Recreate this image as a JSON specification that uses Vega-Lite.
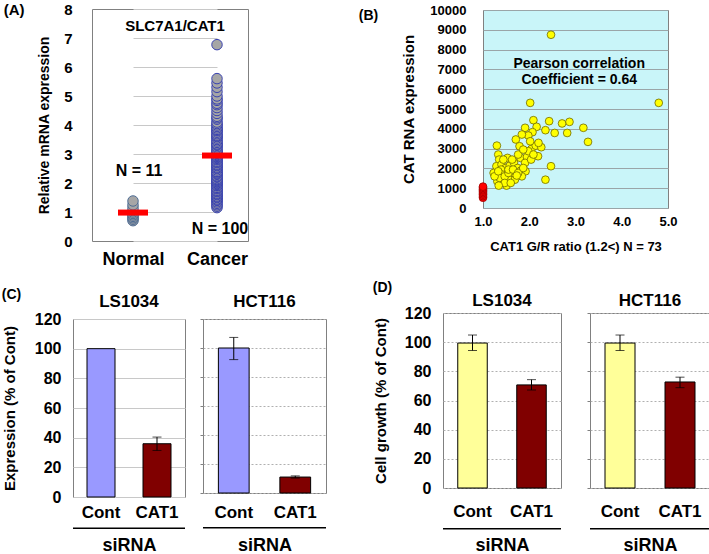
{
  "$schema": "https://vega.github.io/schema/vega-lite/v6.json",
  "padding": {"left": 1, "top": 1, "right": 0, "bottom": 0},
  "background": "white",
  "config": {
    "font": "Liberation Sans",
    "view": {"stroke": "#808080"},
    "axis": {"labelFont": "Liberation Sans", "titleFont": "Liberation Sans", "labelFontWeight": "bold", "titleFontWeight": "bold", "labelColor": "#000", "titleColor": "#000", "domain": false, "ticks": false, "gridColor": "#c8c8c8", "labelOverlap": false, "labelFlush": false, "tickCount": 30},
    "text": {"font": "Liberation Sans", "fontWeight": "bold", "color": "#000"},
    "title": {"font": "Liberation Sans", "fontWeight": "bold", "color": "#000"}
  },
  "datasets": {
    "a": [
      {"g": "Normal", "v": 0.7}, {"g": "Normal", "v": 0.75}, {"g": "Normal", "v": 0.8}, {"g": "Normal", "v": 0.85}, {"g": "Normal", "v": 0.9}, {"g": "Normal", "v": 0.95}, {"g": "Normal", "v": 1.0}, {"g": "Normal", "v": 1.05}, {"g": "Normal", "v": 1.15}, {"g": "Normal", "v": 1.25}, {"g": "Normal", "v": 1.38},
      {"g": "Cancer", "v": 1.15}, {"g": "Cancer", "v": 1.2}, {"g": "Cancer", "v": 1.25}, {"g": "Cancer", "v": 1.3}, {"g": "Cancer", "v": 1.35}, {"g": "Cancer", "v": 1.4}, {"g": "Cancer", "v": 1.42}, {"g": "Cancer", "v": 1.45}, {"g": "Cancer", "v": 1.5}, {"g": "Cancer", "v": 1.52}, {"g": "Cancer", "v": 1.55}, {"g": "Cancer", "v": 1.6}, {"g": "Cancer", "v": 1.62}, {"g": "Cancer", "v": 1.65}, {"g": "Cancer", "v": 1.7}, {"g": "Cancer", "v": 1.72}, {"g": "Cancer", "v": 1.75}, {"g": "Cancer", "v": 1.8}, {"g": "Cancer", "v": 1.82}, {"g": "Cancer", "v": 1.85}, {"g": "Cancer", "v": 1.9}, {"g": "Cancer", "v": 1.92}, {"g": "Cancer", "v": 1.95}, {"g": "Cancer", "v": 1.98}, {"g": "Cancer", "v": 2.0},
      {"g": "Cancer", "v": 2.03}, {"g": "Cancer", "v": 2.05}, {"g": "Cancer", "v": 2.08}, {"g": "Cancer", "v": 2.1}, {"g": "Cancer", "v": 2.12}, {"g": "Cancer", "v": 2.15}, {"g": "Cancer", "v": 2.2}, {"g": "Cancer", "v": 2.22}, {"g": "Cancer", "v": 2.25}, {"g": "Cancer", "v": 2.3}, {"g": "Cancer", "v": 2.32}, {"g": "Cancer", "v": 2.35}, {"g": "Cancer", "v": 2.38}, {"g": "Cancer", "v": 2.4}, {"g": "Cancer", "v": 2.45}, {"g": "Cancer", "v": 2.5}, {"g": "Cancer", "v": 2.52}, {"g": "Cancer", "v": 2.55}, {"g": "Cancer", "v": 2.6}, {"g": "Cancer", "v": 2.62}, {"g": "Cancer", "v": 2.65}, {"g": "Cancer", "v": 2.7}, {"g": "Cancer", "v": 2.72}, {"g": "Cancer", "v": 2.75}, {"g": "Cancer", "v": 2.8}, {"g": "Cancer", "v": 2.82}, {"g": "Cancer", "v": 2.85}, {"g": "Cancer", "v": 2.88}, {"g": "Cancer", "v": 2.9}, {"g": "Cancer", "v": 2.92}, {"g": "Cancer", "v": 2.95}, {"g": "Cancer", "v": 2.98},
      {"g": "Cancer", "v": 3.02}, {"g": "Cancer", "v": 3.05}, {"g": "Cancer", "v": 3.08}, {"g": "Cancer", "v": 3.1}, {"g": "Cancer", "v": 3.15}, {"g": "Cancer", "v": 3.2}, {"g": "Cancer", "v": 3.25}, {"g": "Cancer", "v": 3.3}, {"g": "Cancer", "v": 3.32}, {"g": "Cancer", "v": 3.35}, {"g": "Cancer", "v": 3.4}, {"g": "Cancer", "v": 3.45}, {"g": "Cancer", "v": 3.5}, {"g": "Cancer", "v": 3.55}, {"g": "Cancer", "v": 3.6}, {"g": "Cancer", "v": 3.62}, {"g": "Cancer", "v": 3.65}, {"g": "Cancer", "v": 3.7}, {"g": "Cancer", "v": 3.75}, {"g": "Cancer", "v": 3.8}, {"g": "Cancer", "v": 3.82}, {"g": "Cancer", "v": 3.85}, {"g": "Cancer", "v": 3.9}, {"g": "Cancer", "v": 3.95}, {"g": "Cancer", "v": 4.0},
      {"g": "Cancer", "v": 4.05}, {"g": "Cancer", "v": 4.1}, {"g": "Cancer", "v": 4.2}, {"g": "Cancer", "v": 4.25}, {"g": "Cancer", "v": 4.3}, {"g": "Cancer", "v": 4.4}, {"g": "Cancer", "v": 4.5}, {"g": "Cancer", "v": 4.6}, {"g": "Cancer", "v": 4.7}, {"g": "Cancer", "v": 4.75}, {"g": "Cancer", "v": 4.85}, {"g": "Cancer", "v": 4.9}, {"g": "Cancer", "v": 5.0}, {"g": "Cancer", "v": 5.15}, {"g": "Cancer", "v": 5.3}, {"g": "Cancer", "v": 5.45}, {"g": "Cancer", "v": 5.6},
      {"g": "Cancer", "v": 6.77}
    ],
    "b": [
      {"r": 2.47, "e": 8750, "t": "high"}, {"r": 2.02, "e": 5310, "t": "high"}, {"r": 4.80, "e": 5310, "t": "high"}, {"r": 2.09, "e": 4435, "t": "high"}, {"r": 2.43, "e": 4385, "t": "high"}, {"r": 2.71, "e": 4270, "t": "high"}, {"r": 2.87, "e": 4350, "t": "high"}, {"r": 2.16, "e": 4100, "t": "high"}, {"r": 2.07, "e": 3830, "t": "high"}, {"r": 1.91, "e": 4050, "t": "high"},
      {"r": 2.35, "e": 3930, "t": "high"}, {"r": 2.55, "e": 3790, "t": "high"}, {"r": 2.82, "e": 3790, "t": "high"}, {"r": 3.17, "e": 4050, "t": "high"}, {"r": 3.27, "e": 3340, "t": "high"}, {"r": 1.98, "e": 3660, "t": "high"}, {"r": 1.84, "e": 3710, "t": "high"}, {"r": 1.71, "e": 3460, "t": "high"}, {"r": 1.79, "e": 3120, "t": "high"}, {"r": 1.30, "e": 3150, "t": "high"},
      {"r": 2.05, "e": 2985, "t": "high"}, {"r": 2.14, "e": 3150, "t": "high"}, {"r": 2.26, "e": 3070, "t": "high"}, {"r": 1.33, "e": 2700, "t": "high"}, {"r": 1.35, "e": 2445, "t": "high"}, {"r": 1.53, "e": 2530, "t": "high"}, {"r": 1.81, "e": 2530, "t": "high"}, {"r": 1.95, "e": 2580, "t": "high"}, {"r": 2.19, "e": 2615, "t": "high"}, {"r": 1.98, "e": 2870, "t": "high"},
      {"r": 1.29, "e": 2110, "t": "high"}, {"r": 1.40, "e": 2190, "t": "high"}, {"r": 1.49, "e": 2020, "t": "high"}, {"r": 1.58, "e": 2140, "t": "high"}, {"r": 1.67, "e": 2280, "t": "high"}, {"r": 1.75, "e": 2020, "t": "high"}, {"r": 1.91, "e": 2280, "t": "high"}, {"r": 1.82, "e": 1890, "t": "high"}, {"r": 1.92, "e": 1855, "t": "high"}, {"r": 1.23, "e": 1770, "t": "high"},
      {"r": 1.39, "e": 1940, "t": "high"}, {"r": 1.41, "e": 1690, "t": "high"}, {"r": 1.63, "e": 1740, "t": "high"}, {"r": 1.84, "e": 1600, "t": "high"}, {"r": 1.65, "e": 1520, "t": "high"}, {"r": 1.31, "e": 1350, "t": "high"}, {"r": 1.40, "e": 1265, "t": "high"}, {"r": 1.51, "e": 1130, "t": "high"}, {"r": 1.57, "e": 1430, "t": "high"}, {"r": 1.69, "e": 1430, "t": "high"},
      {"r": 2.35, "e": 1430, "t": "high"}, {"r": 2.47, "e": 2110, "t": "high"}, {"r": 1.36, "e": 1520, "t": "high"}, {"r": 1.25, "e": 1600, "t": "high"}, {"r": 1.47, "e": 1600, "t": "high"}, {"r": 1.33, "e": 1855, "t": "high"}, {"r": 1.55, "e": 1770, "t": "high"}, {"r": 1.44, "e": 2445, "t": "high"}, {"r": 1.63, "e": 2445, "t": "high"}, {"r": 1.76, "e": 2700, "t": "high"},
      {"r": 1.87, "e": 2950, "t": "high"}, {"r": 2.20, "e": 3290, "t": "high"}, {"r": 2.02, "e": 3370, "t": "high"}, {"r": 1.55, "e": 1940, "t": "high"}, {"r": 1.65, "e": 1940, "t": "high"}, {"r": 1.76, "e": 1770, "t": "high"}, {"r": 1.87, "e": 2020, "t": "high"}, {"r": 2.04, "e": 2445, "t": "high"}, {"r": 2.09, "e": 2700, "t": "high"}, {"r": 1.47, "e": 1265, "t": "high"},
      {"r": 1.34, "e": 1130, "t": "high"}, {"r": 1.60, "e": 1265, "t": "high"}, {"r": 1.73, "e": 1640, "t": "high"},
      {"r": 1.0, "e": 520, "t": "normal"}, {"r": 1.0, "e": 600, "t": "normal"}, {"r": 1.0, "e": 680, "t": "normal"}, {"r": 1.0, "e": 750, "t": "normal"}, {"r": 1.0, "e": 820, "t": "normal"}, {"r": 1.0, "e": 890, "t": "normal"}, {"r": 1.0, "e": 950, "t": "normal"}, {"r": 1.0, "e": 1020, "t": "normal"}, {"r": 1.0, "e": 1080, "t": "normal"}
    ],
    "bars": [
      {"fig": "C", "line": "LS1034", "si": "Cont", "v": 100, "lo": null, "hi": null},
      {"fig": "C", "line": "LS1034", "si": "CAT1", "v": 35.9, "lo": 31.4, "hi": 40.4},
      {"fig": "C", "line": "HCT116", "si": "Cont", "v": 100, "lo": 92, "hi": 107.3},
      {"fig": "C", "line": "HCT116", "si": "CAT1", "v": 11, "lo": 10.3, "hi": 11.8},
      {"fig": "D", "line": "LS1034", "si": "Cont", "v": 99.4, "lo": 94.3, "hi": 104.9},
      {"fig": "D", "line": "LS1034", "si": "CAT1", "v": 70.7, "lo": 67.2, "hi": 74.3},
      {"fig": "D", "line": "HCT116", "si": "Cont", "v": 99.4, "lo": 94.3, "hi": 104.9},
      {"fig": "D", "line": "HCT116", "si": "CAT1", "v": 72.7, "lo": 68.8, "hi": 76}
    ]
  },
  "spacing": 12,
  "resolve": {"scale": {"fill": "independent", "stroke": "independent"}},
  "vconcat": [
    {
      "spacing": -71,
      "resolve": {"scale": {"fill": "independent", "stroke": "independent"}},
      "hconcat": [
        {"width": 1, "height": 1, "data": {"values": []}, "mark": "point", "view": {"stroke": null}},
        {
          "spacing": 109,
          "resolve": {"scale": {"fill": "independent", "stroke": "independent"}},
          "hconcat": [
            {
              "width": 156, "height": 232,
              "title": {"text": "(A)", "anchor": "start", "frame": "bounds", "offset": -16, "dx": -34, "fontSize": 15},
              "layer": [
                {
                  "data": {"name": "a"},
                  "layer": [
                    {
                      "mark": {"type": "circle", "size": 110, "fill": "#a6a6a6", "strokeWidth": 1, "opacity": 1},
                      "encoding": {
                        "x": {"field": "g", "type": "nominal", "sort": null, "scale": {"type": "point", "domain": ["Normal", "Cancer"], "range": [41, 125], "padding": 0}, "axis": {"title": null, "labelAngle": 0, "labelFontSize": 18, "labelPadding": 9, "grid": false}},
                        "y": {"field": "v", "type": "quantitative", "scale": {"domain": [0, 8]}, "axis": {"title": "Relative mRNA expression", "values": [0, 1, 2, 3, 4, 5, 6, 7, 8], "tickCount": 30, "format": "d", "labelFontSize": 15, "titleFontSize": 14, "labelPadding": 20, "titlePadding": 12, "grid": true}},
                        "stroke": {"field": "g", "type": "nominal", "scale": {"domain": ["Normal", "Cancer"], "range": ["#4f6d94", "#3a43b0"]}, "legend": null}
                      }
                    },
                    {
                      "mark": {"type": "tick", "color": "#ff0000", "size": 30, "thickness": 6, "opacity": 1},
                      "encoding": {
                        "x": {"field": "g", "type": "nominal", "sort": null},
                        "y": {"aggregate": "mean", "field": "v", "type": "quantitative"}
                      }
                    }
                  ]
                },
                {"data": {"values": [{}]}, "mark": {"type": "text", "fontSize": 15, "text": "SLC7A1/CAT1", "dx": 5}, "encoding": {"y": {"datum": 7.4}}},
                {"data": {"values": [{}]}, "mark": {"type": "text", "fontSize": 16, "text": "N = 11", "dx": 6}, "encoding": {"x": {"datum": "Normal", "type": "nominal"}, "y": {"datum": 2.4}}},
                {"data": {"values": [{}]}, "mark": {"type": "text", "fontSize": 16, "text": "N = 100", "dx": 3}, "encoding": {"x": {"datum": "Cancer", "type": "nominal"}, "y": {"datum": 0.4}}}
              ]
            },
            {
              "spacing": -14,
              "resolve": {"scale": {"fill": "independent", "stroke": "independent"}},
              "vconcat": [
                {"width": 1, "height": 1, "data": {"values": []}, "mark": "point", "view": {"stroke": null}},
                {
                  "width": 185, "height": 198,
                  "view": {"fill": "#c9f5f9", "stroke": "#808080"},
                  "title": {"text": "(B)", "anchor": "start", "frame": "bounds", "offset": -19, "dx": -43, "fontSize": 14},
                  "layer": [
                    {
                      "data": {"name": "b"},
                      "mark": {"type": "circle", "size": 60, "opacity": 1, "strokeWidth": 0.8},
                      "encoding": {
                        "x": {"field": "r", "type": "quantitative", "scale": {"domain": [1, 5], "nice": false, "zero": false}, "axis": {"title": "CAT1 G/R ratio (1.2<) N = 73", "values": [1, 2, 3, 4, 5], "tickCount": 30, "format": ".1f", "labelFontSize": 13, "titleFontSize": 13, "labelPadding": 7, "titlePadding": 12, "grid": false}},
                        "y": {"field": "e", "type": "quantitative", "scale": {"domain": [0, 10000], "nice": false}, "axis": {"title": "CAT RNA expression", "values": [0, 1000, 2000, 3000, 4000, 5000, 6000, 7000, 8000, 9000, 10000], "tickCount": 30, "format": "d", "labelFontSize": 13, "titleFontSize": 15, "labelPadding": 17, "titlePadding": 13, "grid": true, "gridColor": "#9aa5a8"}},
                        "fill": {"field": "t", "type": "nominal", "scale": {"domain": ["high", "normal"], "range": ["#ffff00", "#ff0000"]}, "legend": null},
                        "stroke": {"field": "t", "type": "nominal", "scale": {"domain": ["high", "normal"], "range": ["#6e6a00", "#a00000"]}, "legend": null}
                      }
                    },
                    {"data": {"values": [{}]}, "mark": {"type": "text", "fontSize": 14, "text": "Pearson correlation"}, "encoding": {"x": {"datum": 3.08}, "y": {"datum": 7270}}},
                    {"data": {"values": [{}]}, "mark": {"type": "text", "fontSize": 14, "text": "Coefficient = 0.64"}, "encoding": {"x": {"datum": 3.08}, "y": {"datum": 6460}}}
                  ]
                }
              ]
            }
          ]
        }
      ]
    },
    {
      "spacing": 44,
      "resolve": {"scale": {"fill": "independent", "stroke": "independent"}},
      "hconcat": [
        {
          "title": {"text": "(C)", "anchor": "start", "frame": "bounds", "offset": -10, "fontSize": 14},
          "spacing": -22,
          "resolve": {"scale": {"fill": "independent", "stroke": "independent"}},
          "vconcat": [
            {"width": 1, "height": 1, "data": {"values": []}, "mark": "point", "view": {"stroke": null}},
            {
              "spacing": 12,
              "resolve": {"scale": {"fill": "independent", "stroke": "independent"}},
              "hconcat": [
                {
                  "width": 112, "height": 178,
                  "title": {"text": "LS1034", "fontSize": 17, "offset": 0},
                  "layer": [
                    {
                      "data": {"name": "bars"},
                      "transform": [{"filter": "datum.fig == 'C' && datum.line == 'LS1034'"}],
                      "layer": [
                        {
                          "mark": {"type": "bar", "stroke": "#000", "strokeWidth": 1},
                          "encoding": {
                            "x": {"field": "si", "type": "nominal", "sort": null, "scale": {"domain": ["Cont", "CAT1"], "paddingInner": 0.5, "paddingOuter": 0.25}, "axis": {"title": "siRNA", "labelAngle": 0, "labelFontSize": 17, "labelPadding": 7, "titleFontSize": 18, "titlePadding": 16, "grid": false}},
                            "y": {"field": "v", "type": "quantitative", "scale": {"domain": [0, 120]}, "axis": {"title": "Expression (% of Cont)", "values": [0, 20, 40, 60, 80, 100, 120], "tickCount": 30, "format": "d", "labelFontSize": 16, "titleFontSize": 15, "labelPadding": 12, "titlePadding": 17, "grid": true}},
                            "fill": {"field": "si", "type": "nominal", "scale": {"domain": ["Cont", "CAT1"], "range": ["#9999ff", "#800000"]}, "legend": null}
                          }
                        },
                        {"mark": {"type": "rule", "color": "#000"}, "encoding": {"x": {"field": "si", "type": "nominal", "sort": null}, "y": {"field": "lo", "type": "quantitative"}, "y2": {"field": "hi"}}},
                        {"mark": {"type": "tick", "color": "#000", "size": 9, "thickness": 1}, "encoding": {"x": {"field": "si", "type": "nominal", "sort": null}, "y": {"field": "lo", "type": "quantitative"}}},
                        {"mark": {"type": "tick", "color": "#000", "size": 9, "thickness": 1}, "encoding": {"x": {"field": "si", "type": "nominal", "sort": null}, "y": {"field": "hi", "type": "quantitative"}}}
                      ]
                    },
                    {"data": {"values": [{}]}, "mark": {"type": "rule", "color": "#000", "strokeWidth": 1.5}, "encoding": {"y": {"datum": -21}}}
                  ]
                },
                {
                  "width": 123, "height": 174,
                  "title": {"text": "HCT116", "fontSize": 17, "offset": 8},
                  "layer": [
                    {
                      "data": {"name": "bars"},
                      "transform": [{"filter": "datum.fig == 'C' && datum.line == 'HCT116'"}],
                      "layer": [
                        {
                          "mark": {"type": "bar", "stroke": "#000", "strokeWidth": 1},
                          "encoding": {
                            "x": {"field": "si", "type": "nominal", "sort": null, "scale": {"domain": ["Cont", "CAT1"], "paddingInner": 0.5, "paddingOuter": 0.25}, "axis": {"title": "siRNA", "labelAngle": 0, "labelFontSize": 17, "labelPadding": 11, "titleFontSize": 18, "titlePadding": 16, "grid": false}},
                            "y": {"field": "v", "type": "quantitative", "scale": {"domain": [0, 120]}, "axis": {"title": null, "labels": false, "ticks": true, "tickSize": 3, "tickColor": "#808080", "values": [0, 20, 40, 60, 80, 100, 120], "tickCount": 30, "grid": true, "gridDash": [2, 2], "gridColor": "#b0b0b0"}},
                            "fill": {"field": "si", "type": "nominal", "scale": {"domain": ["Cont", "CAT1"], "range": ["#9999ff", "#800000"]}, "legend": null}
                          }
                        },
                        {"mark": {"type": "rule", "color": "#000"}, "encoding": {"x": {"field": "si", "type": "nominal", "sort": null}, "y": {"field": "lo", "type": "quantitative"}, "y2": {"field": "hi"}}},
                        {"mark": {"type": "tick", "color": "#000", "size": 9, "thickness": 1}, "encoding": {"x": {"field": "si", "type": "nominal", "sort": null}, "y": {"field": "lo", "type": "quantitative"}}},
                        {"mark": {"type": "tick", "color": "#000", "size": 9, "thickness": 1}, "encoding": {"x": {"field": "si", "type": "nominal", "sort": null}, "y": {"field": "hi", "type": "quantitative"}}}
                      ]
                    },
                    {"data": {"values": [{}]}, "mark": {"type": "rule", "color": "#000", "strokeWidth": 1.5}, "encoding": {"y": {"datum": -24}}}
                  ]
                }
              ]
            }
          ]
        },
        {
          "title": {"text": "(D)", "anchor": "start", "frame": "bounds", "offset": -4, "fontSize": 14},
          "spacing": 23,
          "resolve": {"scale": {"fill": "independent", "stroke": "independent"}},
          "hconcat": [
            {
              "width": 118, "height": 175,
              "title": {"text": "LS1034", "fontSize": 17, "offset": -5},
              "layer": [
                {
                  "data": {"name": "bars"},
                  "transform": [{"filter": "datum.fig == 'D' && datum.line == 'LS1034'"}],
                  "layer": [
                    {
                      "mark": {"type": "bar", "stroke": "#000", "strokeWidth": 1},
                      "encoding": {
                        "x": {"field": "si", "type": "nominal", "sort": null, "scale": {"domain": ["Cont", "CAT1"], "paddingInner": 0.5, "paddingOuter": 0.25}, "axis": {"title": "siRNA", "labelAngle": 0, "labelFontSize": 17, "labelPadding": 15, "titleFontSize": 18, "titlePadding": 17, "grid": false}},
                        "y": {"field": "v", "type": "quantitative", "scale": {"domain": [0, 120]}, "axis": {"title": "Cell growth (% of Cont)", "values": [0, 20, 40, 60, 80, 100, 120], "tickCount": 30, "format": "d", "labelFontSize": 16, "titleFontSize": 15, "labelPadding": 12, "titlePadding": 16, "grid": true, "gridDash": [2, 2], "gridColor": "#b0b0b0"}},
                        "fill": {"field": "si", "type": "nominal", "scale": {"domain": ["Cont", "CAT1"], "range": ["#ffff99", "#800000"]}, "legend": null}
                      }
                    },
                    {"mark": {"type": "rule", "color": "#000"}, "encoding": {"x": {"field": "si", "type": "nominal", "sort": null}, "y": {"field": "lo", "type": "quantitative"}, "y2": {"field": "hi"}}},
                    {"mark": {"type": "tick", "color": "#000", "size": 9, "thickness": 1}, "encoding": {"x": {"field": "si", "type": "nominal", "sort": null}, "y": {"field": "lo", "type": "quantitative"}}},
                    {"mark": {"type": "tick", "color": "#000", "size": 9, "thickness": 1}, "encoding": {"x": {"field": "si", "type": "nominal", "sort": null}, "y": {"field": "hi", "type": "quantitative"}}}
                  ]
                },
                {"data": {"values": [{}]}, "mark": {"type": "rule", "color": "#000", "strokeWidth": 1.5}, "encoding": {"y": {"datum": -28}}}
              ]
            },
            {
              "width": 120, "height": 175,
              "title": {"text": "HCT116", "fontSize": 17, "offset": 3},
              "layer": [
                {
                  "data": {"name": "bars"},
                  "transform": [{"filter": "datum.fig == 'D' && datum.line == 'HCT116'"}],
                  "layer": [
                    {
                      "mark": {"type": "bar", "stroke": "#000", "strokeWidth": 1},
                      "encoding": {
                        "x": {"field": "si", "type": "nominal", "sort": null, "scale": {"domain": ["Cont", "CAT1"], "paddingInner": 0.5, "paddingOuter": 0.25}, "axis": {"title": "siRNA", "labelAngle": 0, "labelFontSize": 17, "labelPadding": 15, "titleFontSize": 18, "titlePadding": 17, "grid": false}},
                        "y": {"field": "v", "type": "quantitative", "scale": {"domain": [0, 120]}, "axis": {"title": null, "labels": false, "ticks": true, "tickSize": 3, "tickColor": "#808080", "values": [0, 20, 40, 60, 80, 100, 120], "tickCount": 30, "grid": true, "gridDash": [2, 2], "gridColor": "#b0b0b0"}},
                        "fill": {"field": "si", "type": "nominal", "scale": {"domain": ["Cont", "CAT1"], "range": ["#ffff99", "#800000"]}, "legend": null}
                      }
                    },
                    {"mark": {"type": "rule", "color": "#000"}, "encoding": {"x": {"field": "si", "type": "nominal", "sort": null}, "y": {"field": "lo", "type": "quantitative"}, "y2": {"field": "hi"}}},
                    {"mark": {"type": "tick", "color": "#000", "size": 9, "thickness": 1}, "encoding": {"x": {"field": "si", "type": "nominal", "sort": null}, "y": {"field": "lo", "type": "quantitative"}}},
                    {"mark": {"type": "tick", "color": "#000", "size": 9, "thickness": 1}, "encoding": {"x": {"field": "si", "type": "nominal", "sort": null}, "y": {"field": "hi", "type": "quantitative"}}}
                  ]
                },
                {"data": {"values": [{}]}, "mark": {"type": "rule", "color": "#000", "strokeWidth": 1.5}, "encoding": {"y": {"datum": -28}}}
              ]
            }
          ]
        }
      ]
    }
  ]
}
